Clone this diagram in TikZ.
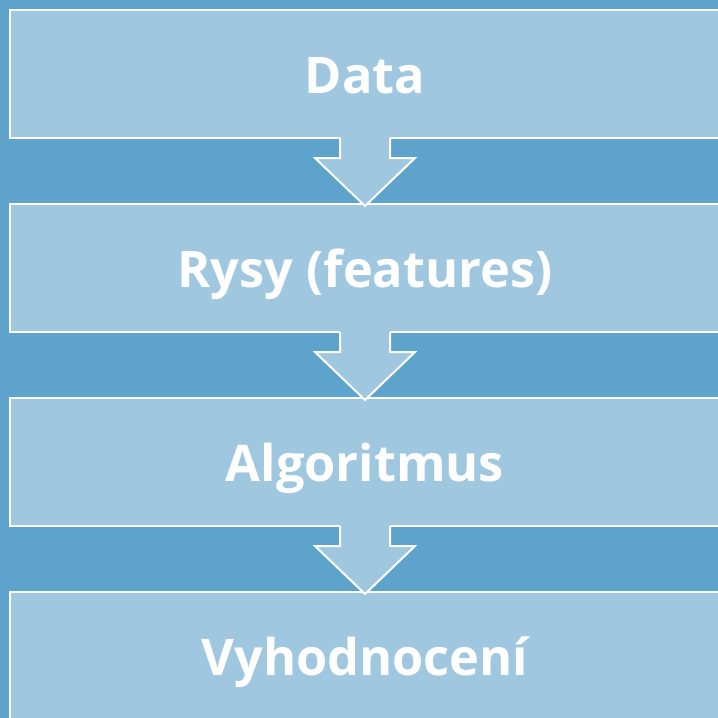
\documentclass[tikz,border=0pt]{standalone}
\usepackage{fontspec}
\setsansfont{Open Sans}
\usepackage{tikz}
\usetikzlibrary{calc}
\definecolor{bgblue}{HTML}{5EA3CB}
\definecolor{boxblue}{HTML}{A0C7E0}
\tikzset{stage/.style = {draw=white, line width=2, fill=boxblue, outer sep=0,
                         minimum width=710, minimum height=128, inner sep=0,
                         text=white, text height=38pt, text depth=0pt,
                         font=\sffamily\bfseries\fontsize{50.5}{60}\selectfont}}
\tikzset{flow/.style = {draw=white, line width=2, line join=miter}}
% block arrow from the bottom of one stage to the top of the next
\newcommand{\flowarrow}[2]{%
  \fill [boxblue] ($(#1.south)+(-25,-1.5)$) -- ($(#1.south)+(-25,20)$)
    -- ($(#1.south)+(-50,20)$) -- ($(#2.north)+(0,2)$) -- ($(#1.south)+(50,20)$)
    -- ($(#1.south)+(25,20)$) -- ($(#1.south)+(25,-1.5)$) -- cycle;
  \draw [flow] ($(#1.south)+(-25,0)$) -- ($(#1.south)+(-25,20)$)
    -- ($(#1.south)+(-50,20)$) -- ($(#2.north)+(0,2)$) -- ($(#1.south)+(50,20)$)
    -- ($(#1.south)+(25,20)$) -- ($(#1.south)+(25,0)$);}

\begin{document}
\begin{tikzpicture}[x=1pt, y=-1pt]
    \useasboundingbox (0, 0) rectangle (718, 718);
    \clip (0, 0) rectangle (718, 718);
    \fill [bgblue] (0, 0) rectangle (718, 718);

    \node [stage] (data) at (365, 74) {Data};
    \node [stage] (rysy) at (365, 268) {Rysy (features)};
    \node [stage] (algoritmus) at (365, 462) {Algoritmus};
    \node [stage] (vyhodnoceni) at (365, 656) {Vyhodnocení};

    \flowarrow{data}{rysy}
    \flowarrow{rysy}{algoritmus}
    \flowarrow{algoritmus}{vyhodnoceni}
  \end{tikzpicture}
\end{document}
